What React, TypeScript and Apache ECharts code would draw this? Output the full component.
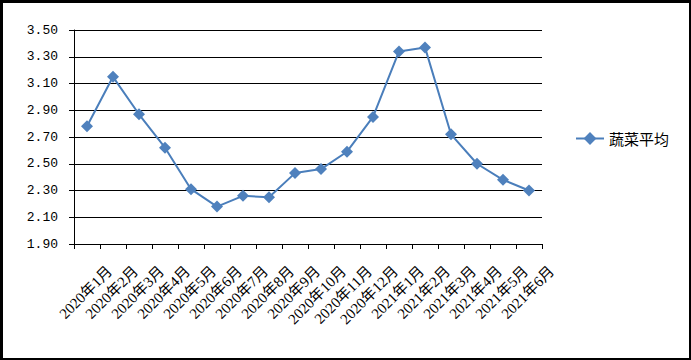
import React, { useEffect, useRef } from "react";
import * as echarts from "echarts";

const categories = [
  "2020年1月", "2020年2月", "2020年3月", "2020年4月", "2020年5月", "2020年6月",
  "2020年7月", "2020年8月", "2020年9月", "2020年10月", "2020年11月", "2020年12月",
  "2021年1月", "2021年2月", "2021年3月", "2021年4月", "2021年5月", "2021年6月",
];
const seriesName = "蔬菜平均";
const values = [2.78, 3.15, 2.87, 2.62, 2.31, 2.18, 2.26, 2.25, 2.43, 2.46, 2.59, 2.85, 3.34, 3.37, 2.72, 2.5, 2.38, 2.3];
const yMin = 1.9;
const yMax = 3.5;
const yStep = 0.2;

export default function App() {
  const ref = useRef<HTMLDivElement>(null);
  useEffect(() => {
    document.body.style.margin = "0";
    const chart = echarts.init(ref.current!, null, { renderer: "svg" });
    chart.setOption({
      animation: false,
      backgroundColor: "#ffffff",
      grid: { left: 74, top: 30, right: 149, bottom: 116 },
      legend: {
        left: 575,
        top: 131,
        padding: 0,
        itemWidth: 28,
        itemHeight: 16,
        textStyle: { fontFamily: "'Noto Sans CJK SC'", fontSize: 15, color: "#000" },
        data: [seriesName],
      },
      xAxis: {
        type: "category",
        data: categories,
        boundaryGap: true,
        axisLine: { lineStyle: { color: "#000", width: 1 } },
        axisTick: { show: true, length: 5, lineStyle: { color: "#000" }, alignWithLabel: false },
        axisLabel: {
          interval: 0,
          rotate: 45,
          margin: 2,
          align: "right",
          verticalAlign: "top",
          lineHeight: 64,
          fontSize: 15,
          color: "#000",
          fontFamily: "'Liberation Serif', 'Noto Sans CJK SC'",
        },
        splitLine: { show: false },
      },
      yAxis: {
        type: "value",
        min: yMin,
        max: yMax,
        interval: yStep,
        axisLine: { show: true, lineStyle: { color: "#000", width: 1 } },
        axisTick: { show: true, length: 5, lineStyle: { color: "#000" } },
        axisLabel: {
          margin: 16,
          fontSize: 13,
          color: "#000",
          fontFamily: "'Liberation Mono', 'DejaVu Sans Mono', monospace",
          formatter: (v: number) => v.toFixed(2),
        },
        splitLine: { show: true, lineStyle: { color: "#000", width: 1 } },
      },
      series: [
        {
          name: seriesName,
          type: "line",
          data: values,
          symbol: "diamond",
          symbolSize: 12,
          lineStyle: { color: "#4A7EBB", width: 2 },
          itemStyle: { color: "#4F81BD" },
        },
      ],
    });
    return () => chart.dispose();
  }, []);
  return (
    <div style={{ position: "fixed", left: 0, top: 0, width: 691, height: 360 }}>
      <div ref={ref} style={{ position: "absolute", left: 0, top: 0, width: 691, height: 360 }} />
      <div
        style={{
          position: "absolute",
          left: 0,
          top: 0,
          width: 691,
          height: 360,
          boxSizing: "border-box",
          borderStyle: "solid",
          borderColor: "#000",
          borderWidth: "3px 2px 2px 3px",
          pointerEvents: "none",
        }}
      />
    </div>
  );
}
